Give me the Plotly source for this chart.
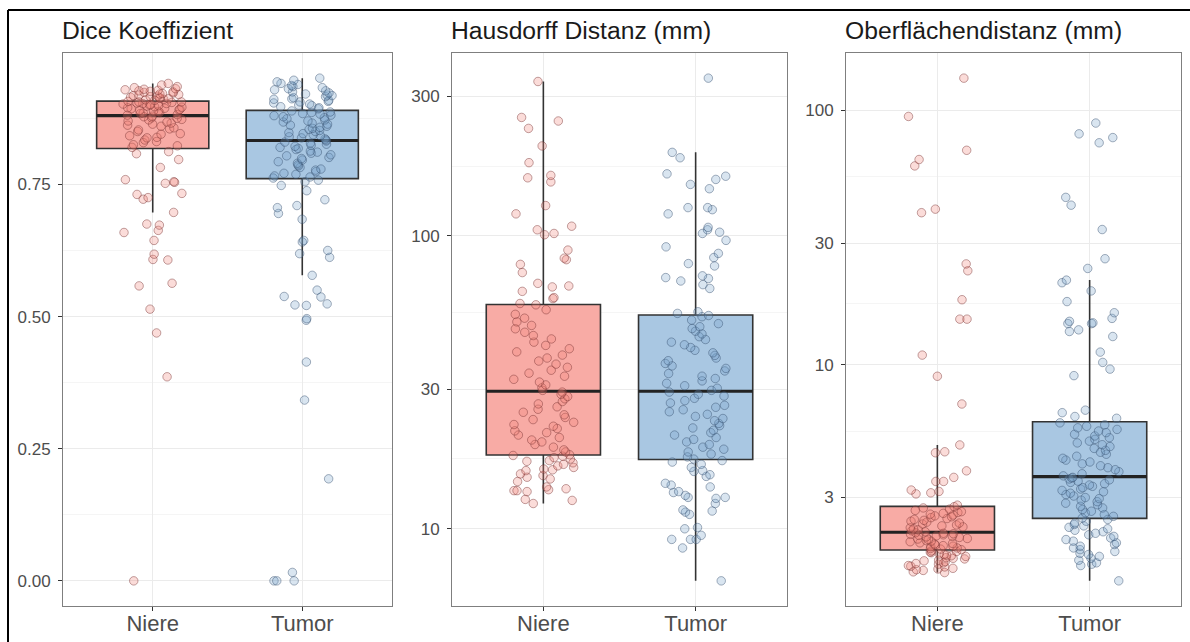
import numpy as np
import plotly.graph_objects as go

# ---------------------------------------------------------------- data
categories = ["Niere", "Tumor"]
panel_titles = ["Dice Koeffizient", "Hausdorff Distanz (mm)", "Oberflächendistanz (mm)"]

dice_niere = [
    0.0, 0.386, 0.469, 0.514, 0.558, 0.563, 0.607, 0.608, 0.618, 0.644,
    0.659, 0.663, 0.673, 0.675, 0.697, 0.722, 0.725, 0.731, 0.733, 0.752,
    0.754, 0.755, 0.759, 0.782, 0.797, 0.808, 0.812,
    0.820, 0.823, 0.825, 0.829, 0.831, 0.834, 0.838, 0.839, 0.842, 0.845,
    0.846, 0.850, 0.853, 0.855, 0.857, 0.860, 0.862, 0.864, 0.866, 0.868,
    0.870, 0.872, 0.873, 0.875, 0.876, 0.878, 0.879,
    0.881, 0.882, 0.884, 0.885, 0.886, 0.888, 0.889, 0.890, 0.891, 0.892,
    0.893, 0.894, 0.895, 0.896, 0.897, 0.898, 0.899, 0.900, 0.901, 0.902,
    0.903, 0.903, 0.904, 0.905, 0.906, 0.906, 0.907,
    0.909, 0.910, 0.911, 0.912, 0.913, 0.914, 0.915, 0.916, 0.917, 0.918,
    0.919, 0.920, 0.921, 0.922, 0.923, 0.924, 0.925, 0.926, 0.927, 0.928,
    0.929, 0.930, 0.931, 0.933, 0.935, 0.938, 0.941,
]
dice_tumor = [
    0.0, 0.0, 0.0, 0.016, 0.193, 0.342, 0.414, 0.493, 0.496, 0.521,
    0.522, 0.524, 0.537, 0.538, 0.550, 0.578, 0.612, 0.619, 0.625, 0.641,
    0.644, 0.684, 0.695, 0.706, 0.710, 0.721, 0.738, 0.748, 0.755, 0.758,
    0.762, 0.764, 0.766, 0.769, 0.771, 0.774, 0.777, 0.779, 0.782, 0.785,
    0.787, 0.790, 0.793, 0.796, 0.799, 0.801, 0.804, 0.806, 0.809, 0.811,
    0.813, 0.816, 0.818, 0.820, 0.822, 0.824, 0.826, 0.828, 0.830, 0.832,
    0.834, 0.836, 0.838, 0.840, 0.842, 0.844, 0.846, 0.848, 0.850, 0.852,
    0.854, 0.856, 0.858, 0.860, 0.862, 0.864, 0.866, 0.868, 0.870, 0.872,
    0.874, 0.876, 0.878, 0.880, 0.881, 0.883, 0.884, 0.886, 0.887, 0.889,
    0.893, 0.895, 0.897, 0.899, 0.900, 0.902, 0.904, 0.906, 0.907, 0.909,
    0.911, 0.912, 0.914, 0.916, 0.918, 0.919, 0.921, 0.923, 0.925, 0.927,
    0.929, 0.931, 0.933, 0.935, 0.937, 0.939, 0.941, 0.944, 0.947, 0.951,
]
hd_niere = [
    12.2, 12.5, 12.6, 13.4, 13.5, 13.5, 13.6, 13.7, 13.9, 14.5,
    14.8, 15.0, 15.2, 15.4, 15.8, 15.9, 16.0, 16.2, 16.4, 16.6,
    16.8, 17.0, 17.1, 17.3, 17.5, 17.7, 17.8,
    17.9, 18.3, 18.6, 19.0, 19.4, 19.8, 20.1, 20.5, 20.9, 21.3,
    21.6, 22.0, 22.4, 22.7, 23.1, 23.6, 24.0, 24.5, 25.0, 25.6,
    26.1, 26.7, 27.2, 27.8, 28.3, 28.8, 29.3,
    29.7, 30.3, 31.0, 31.7, 32.4, 33.2, 34.0, 34.8, 35.6, 36.5,
    37.4, 38.3, 39.2, 40.2, 41.2, 42.3, 43.4, 44.5, 45.7, 46.9,
    48.2, 49.5, 50.9, 52.4, 54.0, 56.0, 58.2,
    58.8, 61.1, 61.6, 64.7, 67.0, 67.5, 68.9, 75.0, 80.0, 83.0,
    84.0, 89.5, 101, 102, 105, 108, 119, 127, 153, 158,
    161, 178, 203, 233, 247, 254, 337,
]
hd_tumor = [
    6.64, 8.6, 9.2, 9.2, 9.2, 9.5, 10.0, 10.1, 11.2, 11.4,
    11.5, 11.6, 12.2, 12.7, 12.8, 12.8, 13.0, 13.3, 13.4, 13.9,
    14.1, 14.3, 15.1, 15.3, 15.7, 15.8, 16.2, 16.6, 16.9, 17.1,
    17.3, 17.6, 18.0, 18.3, 18.7, 19.0, 19.4, 19.8, 20.2, 20.5,
    20.9, 21.3, 21.7, 22.1, 22.5, 22.9, 23.4, 23.8, 24.2, 24.6,
    25.1, 25.5, 26.0, 26.4, 26.9, 27.4, 27.9, 28.4, 28.8, 29.3,
    29.7, 30.2, 30.8, 31.4, 32.0, 32.6, 33.2, 33.9, 34.6, 35.3,
    36.0, 36.7, 37.5, 38.3, 39.1, 39.9, 40.7, 41.6, 42.5, 43.4,
    44.3, 45.3, 46.3, 47.3, 48.3, 49.0, 50.2, 51.6, 53.0, 53.5,
    54.4, 55.1, 66.2, 68.2, 70.2, 71.6, 72.1, 73.1, 79.0, 80.5,
    84.4, 87.2, 91.8, 96.6, 102, 103, 105, 107, 119, 123,
    125, 125, 145, 150, 156, 160, 163, 185, 193, 346,
]
asd_niere = [
    1.52, 1.53, 1.55, 1.56, 1.57, 1.58, 1.60, 1.61, 1.62, 1.64,
    1.65, 1.66, 1.68, 1.69, 1.70, 1.72, 1.73, 1.74, 1.76, 1.77,
    1.78, 1.79, 1.80, 1.82, 1.83, 1.84, 1.85,
    1.87, 1.88, 1.89, 1.90, 1.92, 1.93, 1.94, 1.95, 1.97, 1.98,
    1.99, 2.01, 2.02, 2.03, 2.05, 2.06, 2.07, 2.09, 2.10, 2.11,
    2.12, 2.13, 2.14, 2.15, 2.16, 2.17, 2.18,
    2.20, 2.22, 2.24, 2.26, 2.28, 2.30, 2.32, 2.34, 2.36, 2.38,
    2.40, 2.42, 2.44, 2.46, 2.48, 2.50, 2.52, 2.54, 2.56, 2.58,
    2.60, 2.62, 2.64, 2.67, 2.70, 2.73, 2.76,
    2.80, 3.10, 3.13, 3.17, 3.21, 3.47, 3.47, 3.60, 3.82, 4.50,
    4.54, 4.83, 7.0, 9.0, 10.9, 15.1, 15.1, 18.0, 23.4, 24.9,
    39.6, 40.9, 60.5, 64.1, 69.7, 94.7, 134,
]
asd_tumor = [
    1.41, 1.62, 1.64, 1.66, 1.70, 1.73, 1.76, 1.79, 1.81, 1.84,
    1.87, 1.90, 1.93, 1.96, 1.99, 2.02, 2.05, 2.08, 2.11, 2.14,
    2.17, 2.20, 2.23, 2.26, 2.29, 2.32, 2.35, 2.38, 2.42, 2.46,
    2.49, 2.53, 2.57, 2.61, 2.65, 2.69, 2.73, 2.77, 2.81, 2.85,
    2.89, 2.93, 2.97, 3.00, 3.04, 3.08, 3.12, 3.16, 3.20, 3.24,
    3.28, 3.32, 3.36, 3.40, 3.44, 3.48, 3.52, 3.55, 3.58, 3.60,
    3.65, 3.72, 3.79, 3.86, 3.93, 4.00, 4.07, 4.14, 4.21, 4.28,
    4.36, 4.44, 4.52, 4.60, 4.68, 4.76, 4.84, 4.92, 5.00, 5.08,
    5.16, 5.24, 5.32, 5.40, 5.48, 5.56, 5.64, 5.72, 5.80, 5.90,
    6.15, 6.25, 6.47, 6.62, 9.05, 9.6, 10.2, 11.2, 12.9, 13.5,
    13.7, 14.5, 14.5, 14.6, 14.8, 15.2, 16.0, 17.7, 19.5, 21.0,
    21.5, 23.9, 26.1, 34.0, 42.4, 45.5, 74.6, 78.2, 80.9, 89.2,
]

dice_breaks = [0.0, 0.25, 0.5, 0.75, 1.0]
dice_labels = ["0.00", "0.25", "0.50", "0.75", "1.00"]
hd_breaks = [3, 10, 30, 100, 300, 1000]
asd_breaks = [1, 3, 10, 30, 100, 300]

# ---------------------------------------------------------------- styling
BOX_FILL = {"Niere": "#F8ABA5", "Tumor": "#A9C7E2"}
PT_FILL = {"Niere": "rgba(240,130,120,0.28)", "Tumor": "rgba(120,160,200,0.28)"}
PT_LINE = {"Niere": "rgba(120,50,50,0.45)", "Tumor": "rgba(55,80,110,0.45)"}
FONT = "Liberation Sans, Arial, sans-serif"
W, H = 1190, 642
BOX_W = 0.75
JIT_W = 0.2

# panel plot areas in pixels (left, right); shared top/bottom
panel_px = [(63, 392), (452, 787), (846, 1181)]
top_px, bottom_px = 53, 606


def box_stats(values, log):
    """Quartiles and whisker ends, computed on the (log-)transformed scale."""
    v = np.asarray(values, float)
    t = np.log10(v) if log else v
    q1, med, q3 = np.percentile(t, [25, 50, 75])
    iqr = q3 - q1
    inside = t[(t >= q1 - 1.5 * iqr) & (t <= q3 + 1.5 * iqr)]
    s = [q1, med, q3, inside.min(), inside.max()]
    return [10 ** x for x in s] if log else s


def jitter(n, seed):
    k = np.arange(n, dtype=float)
    u = np.sin(k * 12.9898 + seed * 78.233) * 43758.5453
    u = u - np.floor(u)
    return (u - 0.5) * 2 * JIT_W


panels = [
    (dice_niere, dice_tumor, False, dice_breaks, dice_labels),
    (hd_niere, hd_tumor, True, hd_breaks, [str(b) for b in hd_breaks]),
    (asd_niere, asd_tumor, True, asd_breaks, [str(b) for b in asd_breaks]),
]

fig = go.Figure()
layout = {}
annotations = []

for p, (niere, tumor, log, breaks, labels) in enumerate(panels):
    sfx = "" if p == 0 else str(p + 1)
    xa, ya = "x" + sfx, "y" + sfx
    all_vals = np.asarray(niere + tumor, float)

    for g, (cat, vals) in enumerate(zip(categories, [niere, tumor])):
        pos = g + 1
        q1, med, q3, lo, hi = box_stats(vals, log)
        fig.add_trace(go.Box(
            x=[pos], q1=[q1], median=[med], q3=[q3],
            lowerfence=[lo], upperfence=[hi], width=BOX_W, whiskerwidth=0,
            orientation="v", boxpoints=False,
            fillcolor=BOX_FILL[cat], line=dict(color="#333333", width=1.6),
            xaxis=xa, yaxis=ya, showlegend=False, hoverinfo="skip"))
        fig.add_trace(go.Scatter(
            x=[pos - BOX_W / 2, pos + BOX_W / 2], y=[med, med], mode="lines",
            line=dict(color="#222222", width=3.2),
            xaxis=xa, yaxis=ya, showlegend=False, hoverinfo="skip"))
        fig.add_trace(go.Scatter(
            x=pos + jitter(len(vals), 7 * p + g + 1), y=vals, mode="markers",
            marker=dict(size=8.5, color=PT_FILL[cat],
                        line=dict(color=PT_LINE[cat], width=1)),
            xaxis=xa, yaxis=ya, showlegend=False, hoverinfo="skip"))

    # y range with 5 % expansion (on the transformed scale)
    t = np.log10(all_vals) if log else all_vals
    pad = 0.05 * (t.max() - t.min())
    yr = [t.min() - pad, t.max() + pad]
    if log:
        lb = np.log10(breaks)
        minor = list(10 ** ((lb[:-1] + lb[1:]) / 2))
    else:
        b = np.asarray(breaks)
        minor = list((b[:-1] + b[1:]) / 2)

    left, right = panel_px[p]
    layout["xaxis" + sfx] = dict(
        domain=[left / W, right / W], anchor=ya, range=[0.4, 2.6],
        tickvals=[1, 2], ticktext=categories,
        showgrid=True, gridcolor="#EBEBEB", gridwidth=1, zeroline=False,
        showline=True, mirror=True, linecolor="#7F7F7F", linewidth=1,
        ticks="outside", ticklen=4, tickcolor="#333333", tickwidth=1,
        ticklabelstandoff=-6,
        tickfont=dict(family=FONT, size=22, color="#4D4D4D"))
    layout["yaxis" + sfx] = dict(
        domain=[1 - bottom_px / H, 1 - top_px / H], anchor=xa,
        type="log" if log else "linear", range=yr,
        tickvals=breaks, ticktext=labels,
        showgrid=True, gridcolor="#EBEBEB", gridwidth=1, zeroline=False,
        minor=dict(tickvals=minor, showgrid=True, gridcolor="#F5F5F5",
                   gridwidth=0.6, ticks=""),
        showline=True, mirror=True, linecolor="#7F7F7F", linewidth=1,
        ticks="outside", ticklen=4, tickcolor="#333333", tickwidth=1,
        ticklabelstandoff=4,
        tickfont=dict(family=FONT, size=17, color="#4D4D4D"))
    annotations.append(dict(
        text=panel_titles[p], xref="paper", yref="paper",
        x=(left - 3) / W, y=1 - 30 / H, xanchor="left", yanchor="middle",
        showarrow=False, font=dict(family=FONT, size=24.7, color="#1A1A1A")))

fig.update_layout(
    width=W, height=H, margin=dict(l=0, r=0, t=0, b=0),
    paper_bgcolor="white", plot_bgcolor="white",
    annotations=annotations,
    shapes=[
        dict(type="line", xref="paper", yref="paper",
             x0=8 / W, x1=1, y0=1 - 10 / H, y1=1 - 10 / H,
             line=dict(color="black", width=2)),
        dict(type="line", xref="paper", yref="paper",
             x0=8 / W, x1=8 / W, y0=0, y1=1 - 10 / H,
             line=dict(color="black", width=2)),
    ],
    **layout,
)

fig.write_html("out.html")
